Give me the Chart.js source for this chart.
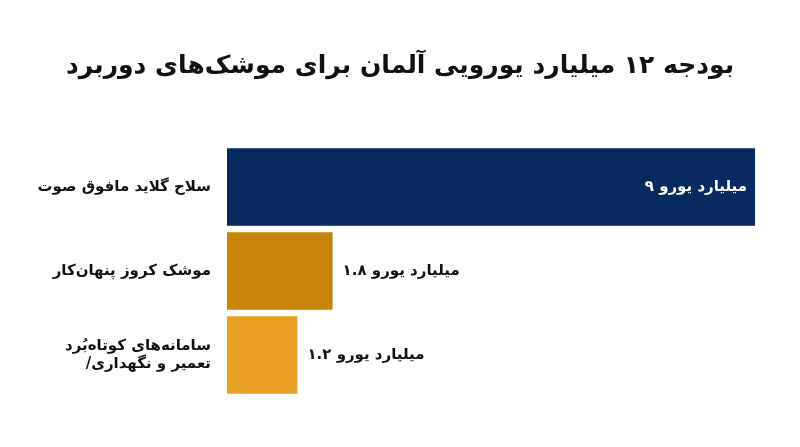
<!DOCTYPE html>
<html><head><meta charset="utf-8">
<script src="https://cdn.jsdelivr.net/npm/chart.js@4"></script>
<style>html,body{margin:0;padding:0;background:#fff}#w{width:800px;height:447px}</style>
</head><body><div id="w"><canvas id="c"></canvas></div>
<script>
const titleText = "بودجه ۱۲ میلیارد یورویی آلمان برای موشک‌های دوربرد";
const categories = [["سلاح گلاید مافوق صوت"], ["موشک کروز پنهان‌کار"], ["سامانه‌های کوتاه‌بُرد", "/تعمیر و نگهداری"]];
const values = [9, 1.8, 1.2];
const valueLabels = ["۹ میلیارد یورو", "۱.۸ میلیارد یورو", "۱.۲ میلیارد یورو"];
const colors = ["#062a5f", "#c8850a", "#e8a122"];
const FONT = "'DejaVu Sans', 'Noto Sans', sans-serif";

const plug = {
  id: 'custom',
  afterDatasetsDraw(chart) {
    const ctx = chart.ctx;
    ctx.save();
    ctx.fillStyle = '#111';
    ctx.font = "bold 25px " + FONT;
    ctx.textAlign = 'center'; ctx.textBaseline = 'middle';
    ctx.fillText(titleText, 400, 66);
    const meta = chart.getDatasetMeta(0);
    ctx.font = "bold 15px " + FONT;
    meta.data.forEach((b, i) => {
      if (i === 0) {
        ctx.fillStyle = '#fff'; ctx.textAlign = 'right';
        ctx.fillText(valueLabels[i], b.x - 8, b.y);
      } else {
        ctx.fillStyle = '#111'; ctx.textAlign = 'left';
        ctx.fillText(valueLabels[i], b.x + 10, b.y);
      }
    });
    ctx.restore();
  }
};

new Chart(document.getElementById('c'), {
  type: 'bar',
  data: { labels: categories, datasets: [{ data: values, backgroundColor: colors, barPercentage: 0.92, categoryPercentage: 1 }] },
  options: {
    indexAxis: 'y', responsive: true, maintainAspectRatio: false, animation: false,
    layout: { padding: { top: 145, bottom: 50, left: 0, right: 45 } },
    plugins: { legend: { display: false }, tooltip: { enabled: false } },
    scales: {
      x: { min: 0, max: 9, display: false },
      y: {
        grid: { display: false }, border: { display: false },
        ticks: { color: '#111', font: { family: FONT, size: 15, weight: 'bold' }, padding: 8 },
        afterFit(s) { s.width = 227; }
      }
    }
  },
  plugins: [plug]
});
</script></body></html>
